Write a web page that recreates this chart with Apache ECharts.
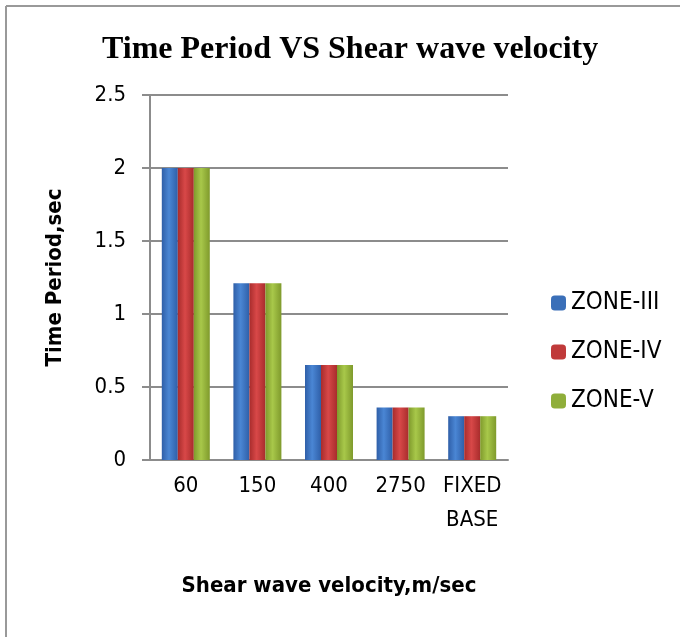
<!DOCTYPE html>
<html><head><meta charset="utf-8">
<script src="https://cdn.jsdelivr.net/npm/echarts@6/dist/echarts.min.js"></script>
<style>html,body{margin:0;padding:0;background:#fff}#c{width:680px;height:637px}</style>
</head><body><div id="c"></div>
<script>
const categories = ['60', '150', '400', '2750', 'FIXED\nBASE'];
const zone3 = [2.0, 1.21, 0.65, 0.36, 0.30];
const zone4 = [2.0, 1.21, 0.65, 0.36, 0.30];
const zone5 = [2.0, 1.21, 0.65, 0.36, 0.30];
const seriesNames = ['ZONE-III', 'ZONE-IV', 'ZONE-V'];
const yTicks = {min: 0, max: 2.5, interval: 0.5};

const font = "'DejaVu Sans Condensed','Liberation Sans',Arial,sans-serif";
function grad(dark, light) {
  return new echarts.graphic.LinearGradient(0, 0, 1, 0, [
    {offset: 0, color: dark}, {offset: 0.45, color: light}, {offset: 1, color: dark}
  ]);
}
const colors = [grad('#2f5fa8', '#4a86d4'), grad('#a82c2c', '#d84848'), grad('#7f9a2c', '#a8c84a')];
const legendColors = ['#3a6fb8', '#c03a3a', '#8fae3a'];
const data = [zone3, zone4, zone5];

const chart = echarts.init(document.getElementById('c'));
chart.setOption({
  animation: false,
  backgroundColor: '#fff',
  title: {
    text: 'Time Period VS Shear wave velocity',
    left: 97, top: 29,
    textStyle: {fontFamily: "'Liberation Serif','Times New Roman',serif", fontWeight: 'bold', fontSize: 32, color: '#000'}
  },
  legend: {
    orient: 'vertical', left: 546, top: 286,
    itemWidth: 15, itemHeight: 15, itemGap: 25,
    textStyle: {fontFamily: font, fontSize: 24, color: '#000'},
    data: seriesNames.map((n, i) => ({name: n, itemStyle: {color: legendColors[i]}}))
  },
  grid: {left: 150, right: 172, top: 95, bottom: 177, containLabel: false},
  xAxis: {
    type: 'category', data: categories,
    name: 'Shear wave velocity,m/sec', nameLocation: 'middle', nameGap: 115,
    nameTextStyle: {fontFamily: font, fontWeight: 'bold', fontSize: 22, color: '#000'},
    axisLine: {lineStyle: {color: '#8c8c8c', width: 2}},
    axisTick: {show: false},
    axisLabel: {fontFamily: font, fontSize: 22, color: '#000', margin: 9, lineHeight: 34, interval: 0}
  },
  yAxis: {
    type: 'value', min: yTicks.min, max: yTicks.max, interval: yTicks.interval,
    name: 'Time Period,sec', nameLocation: 'middle', nameGap: 84,
    nameTextStyle: {fontFamily: font, fontWeight: 'bold', fontSize: 22, color: '#000'},
    axisLine: {show: true, lineStyle: {color: '#8c8c8c', width: 2}},
    axisTick: {show: true, length: 8, lineStyle: {color: '#8c8c8c', width: 2}},
    splitLine: {lineStyle: {color: '#8c8c8c', width: 2}},
    axisLabel: {fontFamily: font, fontSize: 22, color: '#000', margin: 24}
  },
  series: seriesNames.map((n, i) => ({
    name: n, type: 'bar', data: data[i],
    barWidth: 16, barGap: '0%',
    itemStyle: {color: colors[i]}
  })),
  graphic: [
    {type: 'line', shape: {x1: 6, y1: 6, x2: 680, y2: 6}, style: {stroke: '#999', lineWidth: 2}},
    {type: 'line', shape: {x1: 6, y1: 6, x2: 6, y2: 637}, style: {stroke: '#999', lineWidth: 2}}
  ]
});
</script></body></html>
